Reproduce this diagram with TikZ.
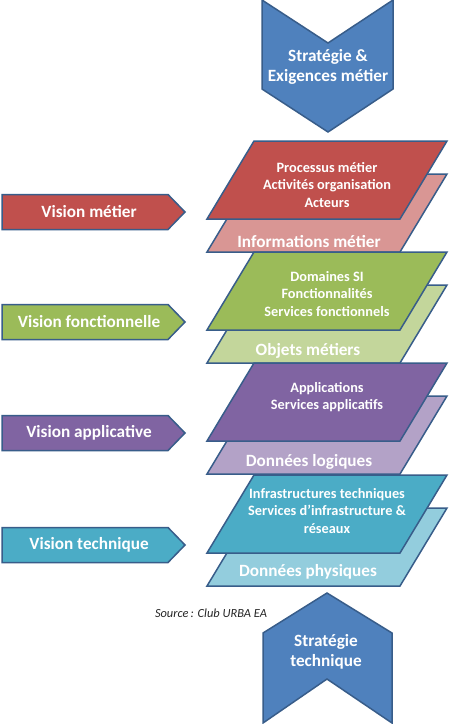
\documentclass[tikz,border=0pt]{standalone}
\usepackage{fontspec}
\setmainfont{Carlito}
\definecolor{edgeblue}{HTML}{385D8A}
\definecolor{chevblue}{HTML}{4F81BD}
\definecolor{redD}{HTML}{C0504D}
\definecolor{redL}{HTML}{D99694}
\definecolor{greenD}{HTML}{9BBB59}
\definecolor{greenL}{HTML}{C3D69B}
\definecolor{purpD}{HTML}{8064A2}
\definecolor{purpL}{HTML}{B3A2C7}
\definecolor{tealD}{HTML}{4BACC6}
\definecolor{tealL}{HTML}{93CDDD}
\begin{document}
\begin{tikzpicture}[x=1pt,y=-1pt,
  shapeline/.style={draw=edgeblue, line width=1.5pt, line join=miter},
  smalltxt/.style={text=white, font=\bfseries\fontsize{14.3}{17.3}\selectfont, align=center, inner sep=0pt},
  bigtxt/.style={text=white, font=\bfseries\fontsize{17.2}{20}\selectfont, align=center, inner sep=0pt}]
\useasboundingbox[fill=white] (0,0) rectangle (448,724);

% business strategy chevron (top)
\filldraw[shapeline, fill=chevblue] (262,0) -- (328,43) -- (393,0) -- (393,89) -- (328,132) -- (262,89) -- cycle;
\node[bigtxt] (stratm) at (328,67) {Stratégie \&\\Exigences métier};

% technical strategy chevron (bottom)
\filldraw[shapeline, fill=chevblue] (327,593) -- (392,633) -- (392,723) -- (327,679) -- (263,723) -- (263,633) -- cycle;
\node[bigtxt] (stratt) at (326,652) {Stratégie\\technique};

% stacked layers: light (data) plate under dark (function) plate
\foreach \t/\dk/\lt in {141/redD/redL, 252/greenD/greenL, 363/purpD/purpL, 475/tealD/tealL}{
  \filldraw[shapeline, fill=\lt] (254,{\t+33}) -- (447,{\t+33}) -- (400,{\t+111}) -- (207,{\t+111}) -- cycle;
  \filldraw[shapeline, fill=\dk] (254,\t) -- (447,\t) -- (400,{\t+78}) -- (207,{\t+78}) -- cycle;
}

\node[smalltxt] (proc) at (327,185) {Processus métier\\Activités organisation\\Acteurs};
\node[bigtxt] (info) at (309,242) {Informations métier};
\node[smalltxt] (dom) at (327,294) {Domaines SI\\Fonctionnalités\\Services fonctionnels};
\node[bigtxt] (obj) at (308,351) {Objets métiers};
\node[smalltxt] (app) at (327,397) {Applications\\Services applicatifs};
\node[bigtxt] (dlog) at (309,462) {Données logiques};
\node[smalltxt] (infra) at (327,511) {Infrastructures techniques\\Services d’infrastructure \&\\réseaux};
\node[bigtxt] (dphy) at (308,572) {Données physiques};

% view arrows on the left
\foreach \c/\col/\txt/\nm in {212/redD/Vision métier/vmet, 322/greenD/Vision fonctionnelle/vfon, 433/purpD/Vision applicative/vapp, 545/tealD/Vision technique/vtec}{
  \filldraw[shapeline, fill=\col] (2,{\c-17.5}) -- (168,{\c-17.5}) -- (185,\c) -- (168,{\c+17.5}) -- (2,{\c+17.5}) -- cycle;
  \node[bigtxt] (\nm) at (89,\c) {\txt};
}

\node[font=\itshape\fontsize{12.4}{14}\selectfont, text=black!85, inner sep=0pt] (src) at (211,613) {Source\,: Club URBA EA};
\end{tikzpicture}
\end{document}
